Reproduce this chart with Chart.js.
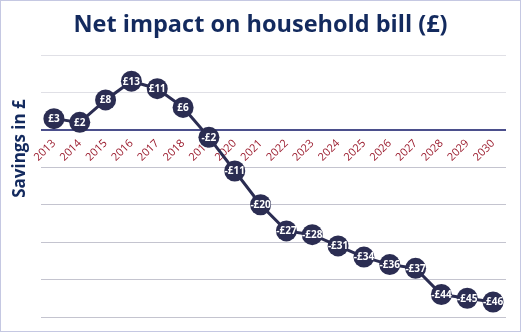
<!DOCTYPE html>
<html>
<head>
<meta charset="utf-8">
<script src="https://cdn.jsdelivr.net/npm/chart.js@4/dist/chart.umd.min.js"></script>
<style>
  html, body { margin: 0; padding: 0; background: #fff; }
  #wrap { width: 519px; height: 330px; border: 1px solid #c5c8e2; position: relative; }
  canvas { display: block; }
</style>
</head>
<body>
<div id="wrap"><canvas id="c" width="519" height="330"></canvas></div>
<script>
const years = ['2013','2014','2015','2016','2017','2018','2019','2020','2021','2022','2023','2024','2025','2026','2027','2028','2029','2030'];
const netImpact = [3, 2, 8, 13, 11, 6, -2, -11, -20, -27, -28, -31, -34, -36, -37, -44, -45, -46];
const chartTitle = 'Net impact on household bill (£)';
const yAxisTitle = 'Savings in £';

const navy = '#2b2d52';
const titleColor = '#132a5e';
const fam = "'Open Sans'";

const pointLabels = {
  id: 'pointLabels',
  afterDatasetsDraw(chart) {
    const ctx = chart.ctx;
    const meta = chart.getDatasetMeta(0);
    ctx.save();
    ctx.fillStyle = '#ffffff';
    ctx.font = 'bold 10px ' + fam;
    ctx.textAlign = 'center';
    ctx.textBaseline = 'middle';
    meta.data.forEach((el, i) => {
      const v = netImpact[i];
      const txt = (v < 0 ? '-£' : '£') + Math.abs(v);
      ctx.fillText(txt, el.x, el.y + 0.5);
    });
    ctx.restore();
  }
};

const yTitle = {
  id: 'yTitle',
  afterDraw(chart) {
    const ctx = chart.ctx;
    ctx.save();
    ctx.translate(19, 147.5);
    ctx.rotate(-Math.PI / 2);
    ctx.fillStyle = titleColor;
    ctx.font = 'bold 17px ' + fam;
    ctx.textAlign = 'center';
    ctx.textBaseline = 'middle';
    ctx.fillText(yAxisTitle, 0, 0);
    ctx.restore();
  }
};

new Chart(document.getElementById('c'), {
  type: 'line',
  data: {
    labels: years,
    datasets: [{
      data: netImpact,
      borderColor: navy,
      backgroundColor: navy,
      borderWidth: 3,
      pointRadius: 10.5,
      pointHoverRadius: 10.5,
      pointBackgroundColor: navy,
      pointBorderColor: navy,
      pointBorderWidth: 0,
      tension: 0,
      clip: false
    }]
  },
  options: {
    responsive: false,
    animation: false,
    events: [],
    layout: { padding: { left: 0, right: 0, top: 0, bottom: 14 } },
    plugins: {
      legend: { display: false },
      tooltip: { enabled: false },
      title: {
        display: true,
        text: chartTitle,
        color: titleColor,
        font: { family: 'Open Sans', size: 23.5, weight: 'bold', lineHeight: 1.2 },
        padding: { top: 10, bottom: 15.8 }
      }
    },
    scales: {
      x: {
        position: { y: 0 },
        offset: true,
        grid: { display: false, drawTicks: false },
        border: { display: false },
        ticks: {
          autoSkip: false,
          minRotation: 45,
          maxRotation: 45,
          color: '#9b1c2e',
          padding: 7,
          font: { family: 'Open Sans', size: 11 }
        },
        afterFit(scale) { scale.height = 0; }
      },
      y: {
        position: 'left',
        min: -50,
        max: 20,
        ticks: { display: false, stepSize: 10 },
        border: { display: false },
        grid: {
          drawTicks: false,
          color: (c) => c.tick.value === 0 ? '#4b4f8c' : (c.tick.value > 0 ? '#e0e0e6' : '#c4c4cf'),
          lineWidth: (c) => c.tick.value === 0 ? 2 : 1
        },
        afterFit(scale) { scale.width = 40; }
      },
      yRight: {
        position: 'right',
        ticks: { display: false },
        border: { display: false },
        grid: { display: false, drawTicks: false },
        afterFit(scale) { scale.width = 14; }
      }
    }
  },
  plugins: [pointLabels, yTitle]
});
</script>
</body>
</html>
